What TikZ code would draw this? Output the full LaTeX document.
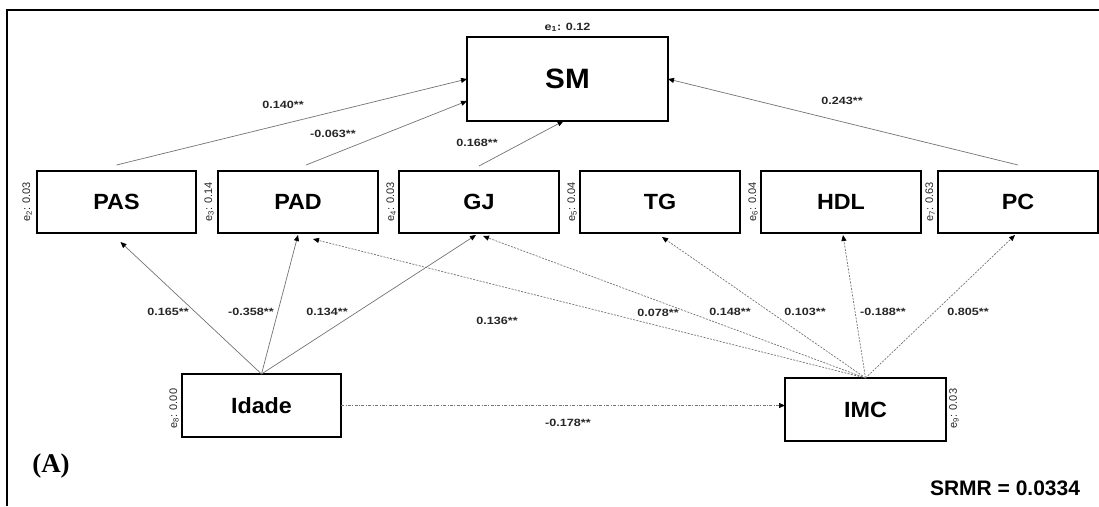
\documentclass[tikz,border=0pt]{standalone}
\usepackage{fontspec}
\setmainfont{Liberation Sans}
\newfontfamily\serifA{Liberation Serif}
\newfontfamily\stretchsans[FakeStretch=1.2]{Liberation Sans}
\newfontfamily\boxsans[FakeStretch=1.06]{Liberation Sans}
\usetikzlibrary{arrows.meta}
\begin{document}
\begin{tikzpicture}[x=1pt,y=-1pt,
  box/.style={draw=black,line width=1.3pt,rectangle,inner sep=0pt,outer sep=0pt,
    minimum width=160pt,minimum height=62pt,font=\boxsans\bfseries\fontsize{22}{24}\selectfont},
  solidarrow/.style={draw=black!55,line width=0.7pt,-{Triangle[length=6pt,width=5pt,color=black]}},
  dasharrow/.style={solidarrow,dash pattern=on 2pt off 1.3pt},
  dotdash/.style={solidarrow,dash pattern=on 3pt off 1.5pt on 0.8pt off 1.5pt},
  coef/.style={font=\stretchsans\bfseries\fontsize{10.5}{12}\selectfont,text=black!85,inner sep=0pt},
  errlab/.style={font=\fontsize{11}{12}\selectfont,text=black!85,inner sep=0pt,rotate=90},
]
\useasboundingbox (0,0) rectangle (1099,506);
% frame
\draw[line width=2pt] (7,506) -- (7,10) -- (1100,10);

% nodes
\node[box,minimum width=201pt,minimum height=84pt,font=\boxsans\bfseries\fontsize{28}{30}\selectfont] (SM) at (567.5,79) {SM};
\node[box,minimum width=159pt] (PAS) at (116.5,202) {PAS};
\node[box] (PAD) at (298,202) {PAD};
\node[box] (GJ) at (479,202) {GJ};
\node[box] (TG) at (660,202) {TG};
\node[box] (HDL) at (841,202) {HDL};
\node[box] (PC) at (1018,202) {PC};
\node[box,minimum width=159pt,minimum height=63pt] (Idade) at (261.5,405.5) {Idade};
\node[box,minimum width=161pt,minimum height=63pt] (IMC) at (865.5,409.5) {IMC};

% error labels
\node[font=\stretchsans\bfseries\fontsize{10.5}{12}\selectfont,text=black!85,inner sep=0pt,anchor=south] (e1) at ([yshift=5pt]SM.north) {e\textsubscript{1}: 0.12};
\node[errlab,anchor=south] (e2) at ([xshift=-5pt]PAS.west) {e\textsubscript{2}: 0.03};
\node[errlab,anchor=south] (e3) at ([xshift=-4pt]PAD.west) {e\textsubscript{3}: 0.14};
\node[errlab,anchor=south] (e4) at ([xshift=-3pt]GJ.west) {e\textsubscript{4}: 0.03};
\node[errlab,anchor=south] (e5) at ([xshift=-3pt]TG.west) {e\textsubscript{5}: 0.04};
\node[errlab,anchor=south] (e6) at ([xshift=-3pt]HDL.west) {e\textsubscript{6}: 0.04};
\node[errlab,anchor=south] (e7) at ([xshift=-3pt]PC.west) {e\textsubscript{7}: 0.63};
\node[errlab,anchor=south] (e8) at ([xshift=-3pt,yshift=-3pt]Idade.west) {e\textsubscript{8}: 0.00};
\node[errlab,anchor=north] (e9) at ([xshift=3pt,yshift=1pt]IMC.east) {e\textsubscript{9}: 0.03};

% paths to SM
\draw[solidarrow] ([yshift=6pt]PAS.north) -- (SM.west);
\draw[solidarrow] ([xshift=8pt,yshift=6pt]PAD.north) -- ([yshift=-22pt]SM.west);
\draw[solidarrow] ([yshift=5pt]GJ.north) -- ([xshift=-4pt]SM.south);
\draw[solidarrow] ([yshift=6pt]PC.north) -- (SM.east);

% paths from Idade
\draw[solidarrow] (Idade.north) -- ([xshift=4pt,yshift=-9pt]PAS.south);
\draw[solidarrow] (Idade.north) -- ([yshift=-2pt]PAD.south);
\draw[solidarrow] (Idade.north) -- ([xshift=-3pt,yshift=-2pt]GJ.south);

% paths from IMC
\draw[dasharrow] (IMC.north) -- ([xshift=15pt,yshift=-6pt]PAD.south);
\draw[dasharrow] (IMC.north) -- ([xshift=4pt,yshift=-3pt]GJ.south);
\draw[dasharrow] (IMC.north) -- ([xshift=2pt,yshift=-4pt]TG.south);
\draw[dasharrow] (IMC.north) -- ([xshift=2pt,yshift=-2pt]HDL.south);
\draw[dasharrow] (IMC.north) -- ([xshift=-3pt,yshift=-2pt]PC.south);

% Idade -> IMC
\draw[dotdash] (Idade.east) -- (Idade.east -| IMC.west);

% coefficients
\node[coef] (c1) at (283,105) {0.140**};
\node[coef] (c2) at (333,134) {-0.063**};
\node[coef] (c3) at (477,143) {0.168**};
\node[coef] (c4) at (842,101) {0.243**};
\node[coef] (c5) at (168,312) {0.165**};
\node[coef] (c6) at (251,312) {-0.358**};
\node[coef] (c7) at (327,312) {0.134**};
\node[coef] (c8) at (497,321) {0.136**};
\node[coef] (c9) at (658,313) {0.078**};
\node[coef] (c10) at (730,312) {0.148**};
\node[coef] (c11) at (805,312) {0.103**};
\node[coef] (c12) at (883,312) {-0.188**};
\node[coef] (c13) at (968,312) {0.805**};
\node[coef] (c14) at (568,423) {-0.178**};

% panel label and fit
\node[font=\serifA\bfseries\fontsize{27}{30}\selectfont,inner sep=0pt] (A) at (51,466) {(A)};
\node[font=\bfseries\fontsize{21}{24}\selectfont,inner sep=0pt] (srmr) at (1005,488) {SRMR = 0.0334};
\end{tikzpicture}
\end{document}
